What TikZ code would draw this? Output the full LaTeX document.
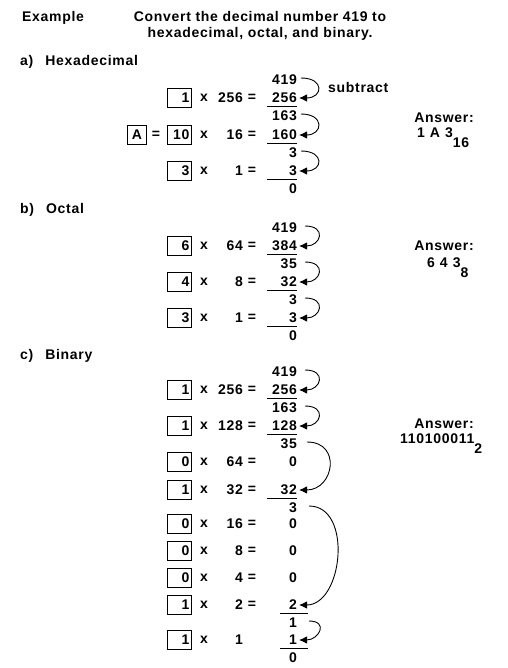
\documentclass[tikz,border=0pt]{standalone}
\usepackage{fontspec}
\setmainfont{Liberation Sans}[LetterSpace=5]
\usetikzlibrary{arrows.meta}

\tikzset{
  txt/.style={font=\fontsize{14}{16}\selectfont\bfseries, inner sep=0pt},
  num/.style={txt, anchor=east},
  digitbox/.style={txt, draw, line width=1pt, minimum height=19pt, text width=20pt, align=right, inner xsep=2pt},
  letterbox/.style={txt, draw, line width=1pt, minimum height=19pt, minimum width=19pt},
  subarrow/.style={-{Latex[length=8pt,width=7.5pt]}, line width=0.9pt},
  sumline/.style={line width=1pt}
}

\begin{document}
\begin{tikzpicture}[x=1pt, y=-1pt]
\useasboundingbox (0,0) rectangle (507,668);

\node[txt, anchor=west] (example) at (22,18) {Example};
\node[txt, align=center] (task) at (260,26) {Convert the decimal number 419 to\\hexadecimal, octal, and binary.};

\node[txt, anchor=west] (hexhead) at (20,62) {a)\hspace{12pt}Hexadecimal};
\foreach \i/\y/\d/\m/\p in {1/98/1/256/256, 2/135/10/16/160, 3/171/3/1/3} {
  \node[digitbox] (hb\i) at (179.5,\y) {\d};
  \node[txt] (hx\i) at (204,\y) {x};
  \node[num] (hm\i) at (243,\y) {\m};
  \node[txt] (he\i) at (252,\y) {=};
  \node[num] (hp\i) at (297,\y) {\p};
  \draw[sumline] (267,\y+8.5) -- (297,\y+8.5);
}
\foreach \i/\y/\r in {0/80/419, 1/116/163, 2/153/3, 3/189/0}
  \node[num] (hr\i) at (297,\y) {\r};
\foreach \i [count=\j] in {0,1,2}
  \draw[subarrow] ([xshift=4pt,yshift=2pt]hr\i.east) to[out=0, in=0, distance=24pt] ([xshift=2pt]hp\j.east);
\node[letterbox] (hexA) at (137,135) {A};
\node[txt] (hexAeq) at (156,135) {=};
\node[txt, anchor=west] (subtract) at (328,87) {subtract};
\node[txt] (hexans) at (444,118) {Answer:};
\node[txt, anchor=base west] (hexval) at (417,138) {1\hspace{5pt}A\hspace{5pt}3\raisebox{-10pt}{16}};

\node[txt, anchor=west] (octhead) at (20,210) {b)\hspace{12pt}Octal};
\foreach \i/\y/\d/\m/\p in {1/246/6/64/384, 2/282/4/8/32, 3/318/3/1/3} {
  \node[digitbox] (ob\i) at (179.5,\y) {\d};
  \node[txt] (ox\i) at (204,\y) {x};
  \node[num] (om\i) at (243,\y) {\m};
  \node[txt] (oe\i) at (252,\y) {=};
  \node[num] (op\i) at (297,\y) {\p};
  \draw[sumline] (267,\y+8.5) -- (297,\y+8.5);
}
\foreach \i/\y/\r in {0/228/419, 1/264/35, 2/300/3, 3/336/0}
  \node[num] (or\i) at (297,\y) {\r};
\foreach \i [count=\j] in {0,1,2}
  \draw[subarrow] ([xshift=8pt,yshift=2pt]or\i.east) to[out=0, in=0, distance=22pt] ([xshift=2pt]op\j.east);
\node[txt] (octans) at (444,246) {Answer:};
\node[txt, anchor=base west] (octval) at (427,267) {6\hspace{5pt}4\hspace{5pt}3\raisebox{-10pt}{8}};

\node[txt, anchor=west] (binhead) at (20,356) {c)\hspace{12pt}Binary};
\foreach \i/\y/\d/\m/\p/\e in {1/390/1/256/256/=, 2/426/1/128/128/=, 3/462/0/64/0/=, 4/490/1/32/32/=, 5/524/0/16/0/=, 6/551/0/8/0/=, 7/578/0/4/0/=, 8/605/1/2/2/=, 9/640/1/1/1/{}} {
  \node[digitbox] (bb\i) at (179.5,\y) {\d};
  \node[txt] (bx\i) at (204,\y) {x};
  \node[num] (bm\i) at (243,\y) {\m};
  \node[txt] (be\i) at (252,\y) {\e};
  \node[num] (bp\i) at (297,\y) {\p};
}
\foreach \i/\y/\r in {0/372/419, 1/408/163, 2/444/35, 4/508/3, 8/623/1, 9/658/0}
  \node[num] (br\i) at (297,\y) {\r};
\draw[sumline] (267,398.5) -- (297,398.5);
\draw[sumline] (267,434.5) -- (297,434.5);
\draw[sumline] (267,498.5) -- (297,498.5);
\draw[sumline] (280,613.5) -- (308,613.5);
\draw[sumline] (280,648.5) -- (308,648.5);
\draw[subarrow] ([xshift=8pt,yshift=2pt]br0.east) to[out=0, in=0, distance=22pt] ([xshift=2pt]bp1.east);
\draw[subarrow] ([xshift=8pt,yshift=2pt]br1.east) to[out=0, in=0, distance=22pt] ([xshift=2pt]bp2.east);
\draw[subarrow] ([xshift=10pt,yshift=2pt]br2.east) to[out=0, in=0, distance=35pt] ([xshift=2pt]bp4.east);
\draw[subarrow] ([xshift=12pt,yshift=2pt]br4.east) to[out=0, in=0, distance=44pt] ([xshift=2pt]bp8.east);
\draw[subarrow] ([xshift=12pt,yshift=2pt]br8.east) to[out=0, in=0, distance=20pt] ([xshift=2pt]bp9.east);
\node[txt] (binans) at (444,424) {Answer:};
\node[txt, anchor=base west] (binval) at (400,443) {110100011\raisebox{-10pt}{2}};
\end{tikzpicture}
\end{document}
